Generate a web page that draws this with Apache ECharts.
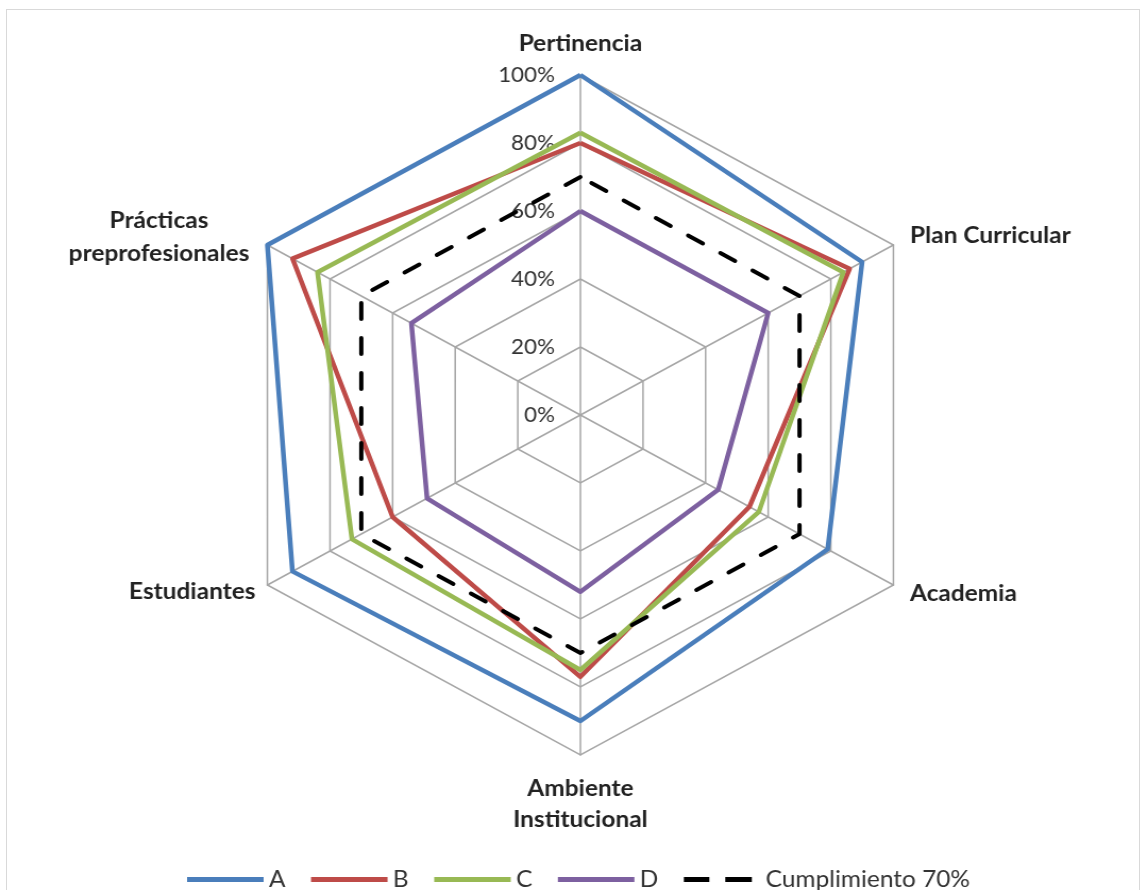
<!DOCTYPE html>
<html>
<head>
<meta charset="utf-8">
<script src="https://cdn.jsdelivr.net/npm/echarts@6/dist/echarts.min.js"></script>
<style>
  html, body { margin: 0; padding: 0; background: #fff; overflow: hidden; }
  #frame { position: absolute; left: 6px; top: 9px; width: 1134px; height: 900px; border: 1px solid #d9d9d9; box-sizing: border-box; }
  #chart { position: absolute; left: 0; top: 0; width: 1079px; height: 890px; transform: scaleX(1.063); transform-origin: 0 0; }
</style>
</head>
<body>
<div id="frame"></div>
<div id="chart"></div>
<script>
// Axes in counter-clockwise order starting at the top
const categories = ['Pertinencia', 'Prácticas\npreprofesionales', 'Estudiantes', 'Ambiente\nInstitucional', 'Academia', 'Plan Curricular'];
const seriesNames = ['A', 'B', 'C', 'D', 'Cumplimiento 70%'];
const valuesA = [100, 100, 92, 90, 79, 90];
const valuesB = [80, 92, 60, 77, 54, 86];
const valuesC = [83, 84, 73, 75, 57, 84];
const valuesD = [60, 54, 49, 52, 44, 60];
const valuesTarget = [70, 70, 70, 70, 70, 70];
const axisMax = 100;

const colors = ['#4A7EBB', '#BE4B48', '#98B954', '#7D60A0', '#000000'];
const allValues = [valuesA, valuesB, valuesC, valuesD, valuesTarget];

const nameCfg = [
  { nameGap: 20 },
  { nameGap: 15, nameTextStyle: { align: 'center', lineHeight: 33, padding: [4, 178, 0, 0] } },
  { nameGap: 13, nameTextStyle: { padding: [6, 0, 0, 0] } },
  { nameGap: 18, nameTextStyle: { lineHeight: 31 } },
  { nameGap: 18 },
  { nameGap: 18, nameTextStyle: { padding: [8, 0, 0, 0] } }
];

const indicator = categories.map((c, i) => {
  const o = Object.assign({ name: c, min: 0, max: axisMax }, nameCfg[i]);
  if (i === 0) {
    o.axisLabel = { show: true, formatter: '{value}%', margin: 24, color: '#333', fontFamily: 'Lato', fontSize: 21 };
  }
  return o;
});

const solidIcon = 'path://M0,0H72V5H0Z';
const dashIcon = 'path://M0,0H24V5H0Z M39,0H64V5H39Z M72,5';

const chart = echarts.init(document.getElementById('chart'), null, { renderer: 'canvas' });
chart.setOption({
  animation: false,
  backgroundColor: 'transparent',
  legend: {
    left: 171,
    top: 863,
    itemWidth: 72,
    itemHeight: 5,
    itemGap: 24,
    itemStyle: { borderWidth: 0 },
    textStyle: { fontFamily: 'Lato', fontSize: 23, color: '#333' },
    data: seriesNames.map((n, i) => ({ name: n, icon: i === 4 ? dashIcon : solidIcon }))
  },
  radar: {
    center: [546, 415],
    radius: 340,
    startAngle: 90,
    shape: 'polygon',
    splitNumber: 5,
    axisNameGap: 15,
    axisName: { color: '#222', fontFamily: 'Lato', fontWeight: 'bold', fontSize: 23 },
    splitLine: { lineStyle: { color: '#a6a6a6', width: 1.5 } },
    splitArea: { show: false },
    axisLine: { lineStyle: { color: '#a6a6a6', width: 1.5 } },
    axisTick: { show: false },
    axisLabel: { show: false },
    indicator: indicator
  },
  series: seriesNames.map((n, i) => ({
    type: 'radar',
    name: n,
    symbol: 'none',
    color: colors[i],
    lineStyle: i === 4
      ? { color: colors[i], width: 4, type: [16, 19], cap: 'round' }
      : { color: colors[i], width: 4.5 },
    itemStyle: { color: colors[i] },
    data: [{ name: n, value: allValues[i] }]
  }))
});
</script>
</body>
</html>
